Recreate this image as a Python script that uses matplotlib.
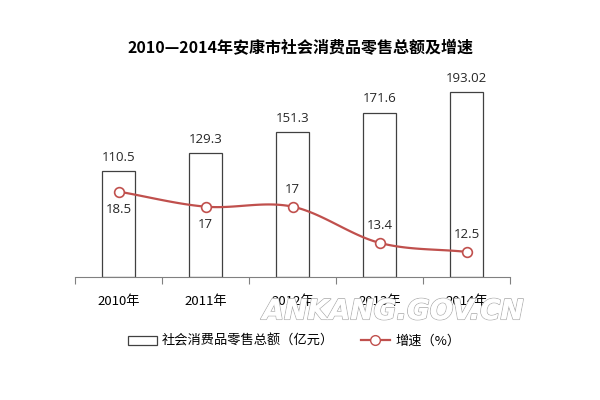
import matplotlib
matplotlib.use('Agg')
import matplotlib.pyplot as plt
import matplotlib.patheffects as pe
import numpy as np
from matplotlib.lines import Line2D
from matplotlib.patches import Patch

plt.rcParams['font.family'] = ['Noto Sans CJK SC', 'DejaVu Sans']

years = ['2010年', '2011年', '2012年', '2013年', '2014年']
sales = [110.5, 129.3, 151.3, 171.6, 193.02]
sales_labels = ['110.5', '129.3', '151.3', '171.6', '193.02']
growth = [18.5, 17, 17, 13.4, 12.5]
growth_labels = ['18.5', '17', '17', '13.4', '12.5']
growth_below = [True, True, False, False, False]

red = '#C0504D'
text_col = '#262626'


def smooth(xs, ys, n=30):
    # catmull-rom curve through the points, like Excel's smoothed line
    xs = np.asarray(xs, float)
    ys = np.asarray(ys, float)
    px = np.concatenate([[2 * xs[0] - xs[1]], xs, [2 * xs[-1] - xs[-2]]])
    py = np.concatenate([[2 * ys[0] - ys[1]], ys, [2 * ys[-1] - ys[-2]]])
    out_x, out_y = [], []
    t = np.linspace(0, 1, n)
    for i in range(1, len(px) - 2):
        for p, out in ((px, out_x), (py, out_y)):
            p0, p1, p2, p3 = p[i - 1], p[i], p[i + 1], p[i + 2]
            out.extend(0.5 * ((2 * p1) + (-p0 + p2) * t
                              + (2 * p0 - 5 * p1 + 4 * p2 - p3) * t ** 2
                              + (-p0 + 3 * p1 - 3 * p2 + p3) * t ** 3))
    return out_x, out_y


fig = plt.figure(figsize=(6, 4), dpi=100)
ax = fig.add_axes([0.125, 0.3075, 0.725, 0.5025])
x = np.arange(len(years))

ax.bar(x, sales, width=0.38, color='white', edgecolor='#404040', linewidth=0.9, zorder=2)
for xi, v, lab in zip(x, sales, sales_labels):
    ax.text(xi, v + 8, lab, ha='center', va='bottom', fontsize=9.5, color=text_col,
            family=['Open Sans', 'DejaVu Sans'])
ax.set_xlim(-0.5, len(years) - 0.5)
ax.set_ylim(0, 210)
ax.set_yticks([])
for s in ['top', 'left', 'right']:
    ax.spines[s].set_visible(False)
ax.spines['bottom'].set_color('#808080')
ax.set_xticks(np.arange(-0.5, len(years), 1.0))
ax.set_xticklabels([])
ax.tick_params(axis='x', direction='out', length=5, color='#808080')
for xi, lab in zip(x, years):
    ax.text(xi, -0.09, lab, transform=ax.get_xaxis_transform(), ha='center', va='top',
            fontsize=9.5, color='black')

ax2 = ax.twinx()
ax2.set_ylim(10, 30)
ax2.set_yticks([])
for s in ax2.spines.values():
    s.set_visible(False)
sx, sy = smooth(x, growth)
ax2.plot(sx, sy, color=red, linewidth=1.6, zorder=3)
ax2.plot(x, growth, linestyle='none', marker='o', markersize=7, markerfacecolor='white',
         markeredgecolor=red, markeredgewidth=1.2, zorder=4)
for xi, v, lab, below in zip(x, growth, growth_labels, growth_below):
    off = -1.1 if below else 1.1
    ax2.text(xi, v + off, lab, ha='center', va='top' if below else 'bottom',
             fontsize=9.5, color=text_col, family=['Open Sans', 'DejaVu Sans'])

fig.text(0.5, 0.88, '2010—2014年安康市社会消费品零售总额及增速', ha='center', va='center',
         fontsize=11.5, fontweight='bold', color='black')

handles = [Patch(facecolor='white', edgecolor='#404040', linewidth=0.9),
           Line2D([0], [0], color=red, linewidth=1.6, marker='o', markersize=7,
                  markerfacecolor='white', markeredgecolor=red)]
fig.legend(handles, ['社会消费品零售总额（亿元）', '增速（%）'], loc='center',
           bbox_to_anchor=(0.49, 0.147), ncol=2, frameon=False, fontsize=9.5,
           handlelength=2.2, handleheight=0.7, columnspacing=2.0, handletextpad=0.4)

# site watermark, drawn over the year labels as in the original
fig.text(0.655, 0.222, 'ANKANG.GOV.CN', ha='center', va='center', fontsize=20,
         fontweight='bold', style='italic', color='white', family='DejaVu Sans',
         path_effects=[pe.withStroke(linewidth=1.2, foreground='#b0b0b0'), pe.Normal()])

fig.savefig('out.png', dpi=100)
